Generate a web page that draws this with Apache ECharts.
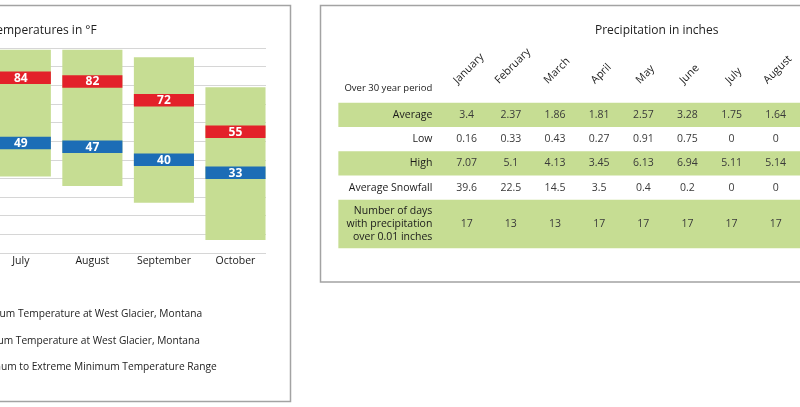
<!DOCTYPE html>
<html><head><meta charset="utf-8">
<script src="https://cdn.jsdelivr.net/npm/echarts@6/dist/echarts.min.js"></script>
<style>html,body{margin:0;padding:0;background:#fff}#c{width:800px;height:407px}</style>
</head><body><div id="c"></div>
<script>
// ---- Temperatures in °F (West Glacier, Montana) ----
const tempMonths = ['July', 'August', 'September', 'October'];
const avgMax = [84, 82, 72, 55];
const avgMin = [49, 47, 40, 33];
const extremeMax = [99, 99, 95, 79];
const extremeMin = [31, 26, 17, -3];
const tempAxisMin = -10, tempAxisMax = 100, tempAxisStep = 10;

// ---- Precipitation in inches ----
const precipMonths = ['January', 'February', 'March', 'April', 'May', 'June', 'July', 'August'];
const rowLabels = ['Average', 'Low', 'High', 'Average Snowfall', 'Number of days\nwith precipitation\nover 0.01 inches'];
const precipAverage = [3.4, 2.37, 1.86, 1.81, 2.57, 3.28, 1.75, 1.64];
const precipLow = [0.16, 0.33, 0.43, 0.27, 0.91, 0.75, 0, 0];
const precipHigh = [7.07, 5.1, 4.13, 3.45, 6.13, 6.94, 5.11, 5.14];
const avgSnowfall = [39.6, 22.5, 14.5, 3.5, 0.4, 0.2, 0, 0];
const daysOver001 = [17, 13, 13, 17, 17, 17, 17, 17];

const legendNames = [
  'Average Maximum Temperature at West Glacier, Montana',
  'Average Minimum Temperature at West Glacier, Montana',
  'Extreme Maximum to Extreme Minimum Temperature Range'
];

// styling / layout
const FONT = 'Open Sans';
const GREEN = '#c6dd93', RED = '#e3212a', BLUE = '#1c6db6';
const rowSpans = [1, 1, 1, 1, 2];
const rowShaded = [true, false, true, false, true];
const rowStart = []; { let s = 0; rowSpans.forEach(v => { rowStart.push(s); s += v; }); }
const tableRows = [precipAverage, precipLow, precipHigh, avgSnowfall, daysOver001];

const measureCtx = document.createElement('canvas').getContext('2d');
function textWidth(t, font) { measureCtx.font = font; return measureCtx.measureText(t).width; }

const rangeData = tempMonths.map((m, i) => [i, extremeMax[i], extremeMin[i]]);
const maxData = tempMonths.map((m, i) => [i, avgMax[i]]);
const minData = tempMonths.map((m, i) => [i, avgMin[i]]);

function bandRender(color) {
  return function (params, api) {
    const p = api.coord([api.value(0), api.value(1)]);
    const w = api.size([1, 0])[0] * 0.84;
    const h = 12.5;
    return {
      type: 'group',
      children: [
        { type: 'rect', shape: { x: p[0] - w / 2, y: p[1] - h / 2, width: w, height: h }, style: { fill: color } },
        { type: 'text', x: p[0], y: p[1] + 0.5, style: { text: String(api.value(1)), fill: '#fff', font: 'bold 12px "' + FONT + '"', align: 'center', verticalAlign: 'middle' } }
      ]
    };
  };
}

const cellData = [];
tableRows.forEach((arr, r) => arr.forEach((v, c) => cellData.push([c, r, v])));

const BODY = '10.5px "' + FONT + '"';
const HEAD = '10.8px "' + FONT + '"';

const option = {
  animation: false,
  backgroundColor: '#fff',
  textStyle: { fontFamily: FONT },
  title: [
    { text: 'Temperatures in °F', right: 703.3, top: 25, padding: 0, textStyle: { fontSize: 12, fontWeight: 'normal', color: '#222', fontFamily: FONT } },
    { text: 'Precipitation in inches', left: 656.7, textAlign: 'center', top: 25, padding: 0, textStyle: { fontSize: 12, fontWeight: 'normal', color: '#222', fontFamily: FONT } }
  ],
  legend: {
    orient: 'vertical', right: 583.3, top: 307, padding: 0,
    itemWidth: 14, itemHeight: 14, itemGap: 12.8, icon: 'rect',
    data: legendNames,
    textStyle: { fontSize: 10.2, color: '#222', fontFamily: FONT }
  },
  grid: [
    { left: -20, right: 534, top: 48, bottom: 154, outerBoundsMode: 'none', containLabel: false },
    { left: -14.95, right: 528.75, top: 48, bottom: 154, outerBoundsMode: 'none', containLabel: false },
    { left: 444.65, right: 2.2, top: 102.7, bottom: 158.7, outerBoundsMode: 'none', containLabel: false }
  ],
  xAxis: [
    { gridIndex: 0, type: 'value', show: false },
    { gridIndex: 1, type: 'category', data: tempMonths, axisLine: { show: false }, axisTick: { show: false },
      axisLabel: { interval: 0, fontSize: 10.5, color: '#1a1a1a', margin: 3, fontFamily: FONT } },
    { gridIndex: 2, type: 'category', data: precipMonths, show: false }
  ],
  yAxis: [
    { gridIndex: 0, type: 'value', min: tempAxisMin, max: tempAxisMax, interval: tempAxisStep,
      axisLabel: { show: false }, axisLine: { show: false }, axisTick: { show: false },
      splitLine: { lineStyle: { color: '#d6d6d6', width: 1 } } },
    { gridIndex: 1, type: 'value', min: tempAxisMin, max: tempAxisMax, show: false, splitLine: { show: false } },
    { gridIndex: 2, type: 'value', min: 0, max: 6, inverse: true, show: false, splitLine: { show: false } }
  ],
  series: [
    { name: legendNames[2], type: 'custom', xAxisIndex: 1, yAxisIndex: 1, itemStyle: { color: GREEN }, data: rangeData, z: 2,
      renderItem: function (params, api) {
        const top = api.coord([api.value(0), api.value(1)]);
        const bot = api.coord([api.value(0), api.value(2)]);
        const w = api.size([1, 0])[0] * 0.84;
        return { type: 'rect', shape: { x: top[0] - w / 2, y: top[1], width: w, height: bot[1] - top[1] }, style: { fill: GREEN } };
      } },
    { name: legendNames[0], type: 'custom', xAxisIndex: 1, yAxisIndex: 1, itemStyle: { color: RED }, data: maxData, z: 3, renderItem: bandRender(RED) },
    { name: legendNames[1], type: 'custom', xAxisIndex: 1, yAxisIndex: 1, itemStyle: { color: BLUE }, data: minData, z: 3, renderItem: bandRender(BLUE) },
    // table: row bands + row labels
    { type: 'custom', xAxisIndex: 2, yAxisIndex: 2, z: 1, data: rowLabels.map((l, i) => [0, i]),
      renderItem: function (params, api) {
        const r = api.value(1);
        const cs = params.coordSys;
        const y0 = api.coord([0, rowStart[r]])[1];
        const y1 = api.coord([0, rowStart[r] + rowSpans[r]])[1];
        const children = [];
        if (rowShaded[r]) children.push({ type: 'rect', shape: { x: cs.x - 106.3, y: y0, width: cs.width + 140, height: y1 - y0 }, style: { fill: GREEN } });
        children.push({ type: 'text', x: cs.x - 12.3, y: (y0 + y1) / 2, style: { text: rowLabels[r], fill: '#1a1a1a', font: BODY, align: 'right', verticalAlign: 'middle', lineHeight: 12.7 } });
        return { type: 'group', children: children };
      } },
    // table: values
    { type: 'custom', xAxisIndex: 2, yAxisIndex: 2, z: 3, data: cellData,
      renderItem: function (params, api) {
        const r = api.value(1);
        const p = api.coord([api.value(0), rowStart[r] + rowSpans[r] / 2]);
        return { type: 'text', x: p[0], y: p[1], style: { text: String(api.value(2)), fill: '#3a3a3a', font: BODY, align: 'center', verticalAlign: 'middle' } };
      } },
    // table: rotated month headers
    { type: 'custom', xAxisIndex: 2, yAxisIndex: 2, z: 3, data: precipMonths.map((m, i) => [i, 0]),
      renderItem: function (params, api) {
        const i = api.value(0);
        const p = api.coord([i, 0]);
        const w = textWidth(precipMonths[i], HEAD);
        const ext = (w + 9) * Math.SQRT1_2;
        const bottom = p[1] - 17.5;
        return { type: 'text', x: p[0] + 2, y: bottom - ext / 2, rotation: Math.PI / 4,
          style: { text: precipMonths[i], fill: '#1a1a1a', font: HEAD, align: 'center', verticalAlign: 'middle' } };
      } }
  ],
  graphic: [
    { type: 'rect', shape: { x: -10, y: 5.5, width: 300.5, height: 396 }, style: { fill: 'none', stroke: '#a3a3a3', lineWidth: 1.5 }, z: 100 },
    { type: 'rect', shape: { x: 320.5, y: 5.5, width: 500, height: 276.5 }, style: { fill: 'none', stroke: '#a3a3a3', lineWidth: 1.5 }, z: 100 },
    { type: 'text', x: 432.3, y: 88.3, style: { text: 'Over 30 year period', fill: '#1a1a1a', font: '9.5px "' + FONT + '"', align: 'right', verticalAlign: 'middle' }, z: 100 }
  ]
};

const chart = echarts.init(document.getElementById('c'), null, { renderer: 'canvas' });
chart.setOption(option);
</script>
</body></html>
